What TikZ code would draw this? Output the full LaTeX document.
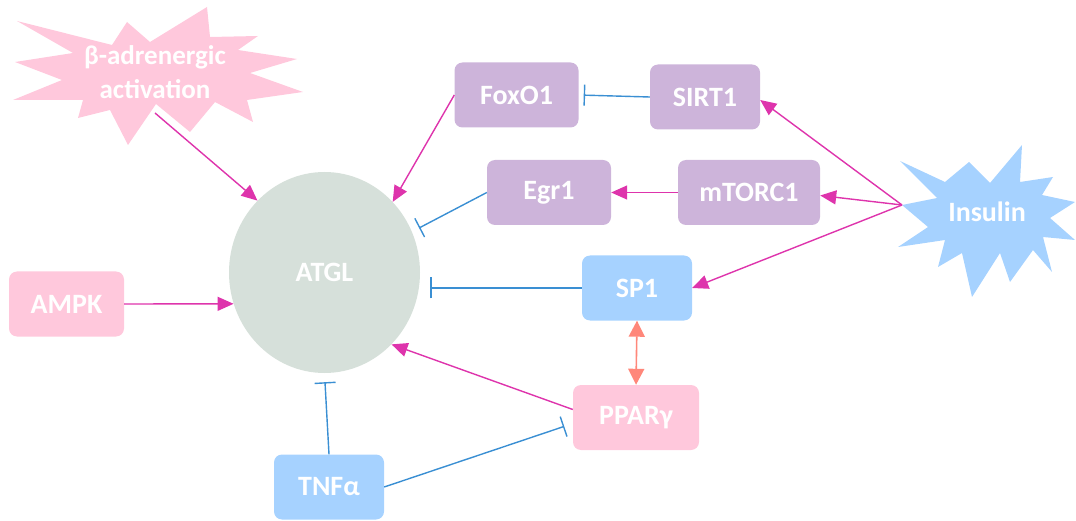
\documentclass[tikz,border=0pt]{standalone}
\usepackage{fontspec}
\setmainfont{Carlito}
\usetikzlibrary{arrows.meta,shapes.geometric,calc}

\definecolor{pinkfill}{RGB}{255,200,220}
\definecolor{purplefill}{RGB}{205,180,218}
\definecolor{bluefill}{RGB}{166,210,255}
\definecolor{ellfill}{RGB}{214,224,218}
\definecolor{actline}{RGB}{222,52,172}
\definecolor{inhline}{RGB}{58,143,211}
\definecolor{salmon}{RGB}{255,135,122}

\begin{document}
\begin{tikzpicture}[x=1pt,y=-1pt,
  lbl/.style={text=white,font=\fontsize{28}{34}\selectfont\bfseries,align=center,inner sep=0pt},
  box/.style={lbl,rounded corners=8pt,minimum width=#1},
  box/.default=115pt,
  pinkbox/.style={box=#1,fill=pinkfill,minimum height=65pt},
  purplebox/.style={box=#1,fill=purplefill,minimum height=65pt},
  bluebox/.style={box=#1,fill=bluefill,minimum height=65pt},
  act/.style={draw=actline,line width=1.4pt,-{Triangle[length=16pt,width=14pt]}},
  inh/.style={draw=inhline,line width=1.4pt,-{Bar[width=21pt,line width=1.4pt]}},
  both/.style={draw=salmon,line width=1.6pt,{Triangle[length=16pt,width=16pt]}-{Triangle[length=16pt,width=16pt]}}
]
\useasboundingbox (0,0) rectangle (1076,521);

% beta-adrenergic burst
\fill[pinkfill] (17,21) -- (112,45) -- (127,22) -- (150,42) -- (207,7) -- (210,37)
  -- (258,36) -- (238,50) -- (297,59) -- (250,73) -- (303,92) -- (247,100)
  -- (253,122) -- (215,102) -- (190,132) -- (156,104) -- (128,145) -- (110,110)
  -- (78,118) -- (83,100) -- (13,100) -- (62,80) -- (15,62) -- (73,53) -- cycle;
\node[lbl,font=\fontsize{27}{34}\selectfont\bfseries] (beta) at (155,72) {β-adrenergic\\activation};
\coordinate (betaout) at (155,113);

% insulin burst
\fill[bluefill] (902,205) -- (937,198) -- (900,161) -- (945,182) -- (969,162)
  -- (990,183) -- (1022,145) -- (1020,182) -- (1053,177) -- (1042,195)
  -- (1075,202) -- (1050,218) -- (1075,240) -- (1043,237) -- (1052,272)
  -- (1033,250) -- (1010,282) -- (1000,253) -- (972,297) -- (962,253)
  -- (938,267) -- (945,240) -- (898,247) -- (928,227) -- cycle;
\node[lbl] (insulin) at (987,212) {Insulin};
\coordinate (insout) at (902,205);

% central enzyme
\node[ellipse,fill=ellfill,minimum width=191pt,minimum height=201pt,inner sep=0pt,
  text=white,font=\fontsize{28}{34}\selectfont\bfseries] (atgl) at (324.5,272.5) {ATGL};

% regulators
\node[pinkbox=115pt]   (ampk)   at (66.5,304)  {AMPK};
\node[purplebox=124pt] (foxo1)  at (516.5,95)  {FoxO1};
\node[purplebox=110pt] (sirt1)  at (705,97)    {SIRT1};
\node[purplebox=124pt] (egr1)   at (549,192.5) {Egr1};
\node[purplebox=142pt] (mtorc1) at (749,192.5) {mTORC1};
\node[bluebox=110pt]   (sp1)    at (637,288)   {SP1};
\node[pinkbox=126pt]   (pparg)  at (636,417.5) {PPARγ};
\node[bluebox=110pt]   (tnfa)   at (329,487)   {TNFα};

% activations
\draw[act] (betaout) -- (atgl.133.7);
\draw[act] (ampk.east) -- (atgl.199.5);
\draw[act] (foxo1.west) -- (atgl.46.6);
\draw[act] ($(pparg.west)+(0,-8)$) -- (atgl.313.8);
\draw[act] (mtorc1.west) -- (egr1.east);
\draw[act] (insout) -- ($(sirt1.east)+(0,3)$);
\draw[act] (insout) -- ($(mtorc1.east)+(0,3)$);
\draw[act] (insout) -- (sp1.east);

% inhibitions
\draw[inh,shorten >=8pt] (egr1.west) -- (atgl.25);
\draw[inh,shorten >=10pt] (sp1.west) -- (sp1.west -| atgl.east);
\draw[inh,shorten >=9pt] (tnfa.north) -- (atgl.south);
\draw[inh,shorten >=9pt] (tnfa.east) -- ($(pparg.west)+(0,6)$);
\draw[inh,shorten >=5pt] (sirt1.west) -- (foxo1.east);

% mutual regulation
\draw[both] (sp1.south) -- (pparg.north);
\end{tikzpicture}
\end{document}
